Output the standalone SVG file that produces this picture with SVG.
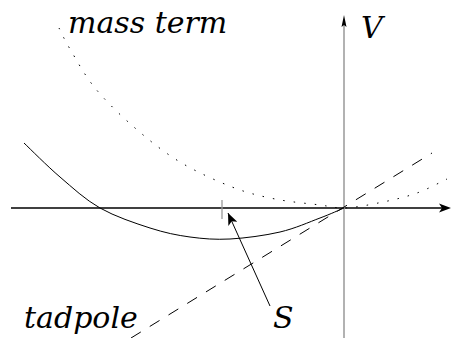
<svg xmlns="http://www.w3.org/2000/svg" width="451" height="338" viewBox="0 0 451 338">
<style>
.lbl{font-family:"DejaVu Serif",serif;font-style:italic;font-size:30px;fill:#000}
.curve{fill:none;stroke:#000;stroke-width:1}
</style>
<defs>
<marker id="ah" markerWidth="14" markerHeight="10" refX="12" refY="5" orient="auto" markerUnits="userSpaceOnUse">
<path d="M0,0 L12,5 L0,10 L3,5 Z" fill="#000"/>
</marker>
</defs>
<rect width="451" height="338" fill="#fff"/>
<g id="axes">
<line x1="11" y1="208" x2="442" y2="208" stroke="#000" stroke-width="1.3"/>
<path d="M451,208 L439,203.5 L442,208 L439,212.5 Z" fill="#000"/>
<line x1="344" y1="338" x2="344" y2="24" stroke="#999" stroke-width="1.5"/>
<path d="M344,15 L341.5,27 L344,25 L346.5,27 Z" fill="#000"/>
<line x1="222" y1="200" x2="222" y2="219" stroke="#999" stroke-width="1.3"/>
</g>
<g id="mass-term-curve">
<path class="curve" stroke-dasharray="1.5 9" d="M59,28 C60.8,31.5 64,39 70,49 C76,59 84.2,74.8 95,88 C105.8,101.2 120.8,115.7 135,128 C149.2,140.3 163.8,152.2 180,162 C196.2,171.8 216.2,180.8 232,187 C247.8,193.2 260.3,196 275,199 C289.7,202 308.5,203.5 320,205 C331.5,206.5 334,208 344,208 C357,207.5 370.8,204.5 383,202 C395.2,199.5 406.3,196.8 417,193 C427.7,189.2 442,181.3 447,179"/>
</g>
<g id="tadpole-line">
<line x1="131" y1="338" x2="432" y2="153" stroke="#000" stroke-width="1" stroke-dasharray="11.5 10.5"/>
</g>
<g id="potential-curve">
<path class="curve" d="M24,143 C30,148.7 47.3,166.2 60,177 C72.7,187.8 85,199.5 100,208 C115,216.5 135,223.2 150,228 C165,232.8 176.7,235.2 190,237 C203.3,238.8 215,239.8 230,239 C245,238.2 265,235.5 280,232 C295,228.5 309.3,222 320,218 C330.7,214 340,209.7 344,208"/>
</g>
<g id="connectors">
<line x1="270" y1="306" x2="228" y2="213" stroke="#000" stroke-width="1" marker-end="url(#ah)"/>
</g>
<g id="labels">
<text class="lbl" x="68" y="33">mass term</text>
<text class="lbl" x="361" y="38">V</text>
<text class="lbl" x="24" y="328">tadpole</text>
<text class="lbl" x="273" y="328">S</text>
</g>
</svg>
